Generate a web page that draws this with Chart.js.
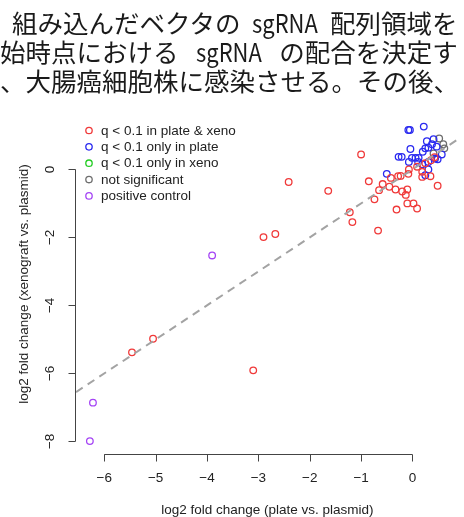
<!DOCTYPE html>
<html lang="ja">
<head>
<meta charset="utf-8">
<script src="https://cdn.jsdelivr.net/npm/chart.js@4.4.0/dist/chart.umd.min.js"></script>
<style>
  html, body { margin: 0; padding: 0; background: #fff; }
  body { width: 464px; height: 517px; position: relative; overflow: hidden; }
  #plot { position: absolute; left: 0; top: 0; }
  .jp { position: absolute; white-space: pre; font-family: "Noto Sans CJK JP", sans-serif; font-size: 25.5px; line-height: 28px; color: #1a1a1a; }
  .sg { display: inline-block; width: 66px; margin: 0 6px; }
  .sg span { display: inline-block; transform: scaleX(0.86); transform-origin: 0 0; }
</style>
</head>
<body>
<canvas id="plot" width="464" height="517"></canvas>
<div class="jp" style="left:12px; top:8px;">組み込んだベクタの <span class="sg"><span>sgRNA</span></span> 配列領域を</div>
<div class="jp" style="left:0px; top:37px;">始時点における  <span class="sg"><span>sgRNA</span></span>  の配合を決定す</div>
<div class="jp" style="left:0px; top:66px;">、大腸癌細胞株に感染させる。その後、</div>

<script>
// ===== Data =====
const groupLabels = ["q < 0.1 in plate & xeno", "q < 0.1 only in plate", "q < 0.1 only in xeno", "not significant", "positive control"];
const groupColors = ["#f03a3a", "#2a2af0", "#22cc22", "#6e6e6e", "#a545f5"];

// [plate LFC, xeno LFC]
const bothPoints = [
  [-5.46, -5.38], [-5.05, -4.98], [-3.10, -5.91], [-2.90, -1.99], [-2.67, -1.90],
  [-2.41, -0.37], [-1.64, -0.63], [-1.00, 0.44], [-1.22, -1.26], [-1.17, -1.55],
  [-0.85, -0.35], [-0.74, -0.88], [-0.67, -1.80], [-0.65, -0.61], [-0.58, -0.43],
  [-0.45, -0.51], [-0.42, -0.25], [-0.33, -0.59], [-0.31, -1.18], [-0.28, -0.20],
  [-0.23, -0.19], [-0.20, -0.65], [-0.13, -0.75], [-0.10, -0.59], [-0.10, -1.00],
  [-0.08, -0.13], [-0.07, 0.00], [0.02, -1.00], [0.09, -1.15], [0.09, 0.08],
  [0.19, -0.07], [0.19, -0.22], [0.25, 0.18], [0.35, -0.20], [0.36, 0.27],
  [0.43, 0.36], [0.49, -0.48]
];
const plateOnlyPoints = [
  [-0.50, -0.13], [-0.27, 0.37], [-0.21, 0.37], [-0.08, 1.16], [-0.05, 1.16],
  [0.22, 1.26], [-0.04, 0.60], [-0.07, 0.22], [-0.01, 0.34], [0.06, 0.34],
  [0.12, 0.34], [0.11, 0.22], [0.19, 0.15], [0.20, 0.52], [0.25, 0.62],
  [0.28, 0.83], [0.31, 0.64], [0.31, 0.00], [0.25, -0.17], [0.38, 0.74],
  [0.41, 0.89], [0.44, 0.32], [0.47, 0.67], [0.57, 0.44], [0.49, 0.30], [0.31, 0.22]
];
const xenoOnlyPoints = [];
const notSigPoints = [[0.52, 0.91], [0.60, 0.74], [0.62, 0.62], [0.41, 0.47]];
const controlPoints = [[-3.90, -2.53], [-6.22, -6.86], [-6.28, -7.99]];

const xTicks = [-6, -5, -4, -3, -2, -1, 0];
const yTicks = [0, -2, -4, -6, -8];
const xTitle = "log2 fold change (plate vs. plasmid)";
const yTitle = "log2 fold change (xenograft vs. plasmid)";

// plot limits (R style, 4% beyond data)
const xMin = -6.55, xMax = 0.9;
const yMin = -8.37, yMax = 1.63;

const groups = [bothPoints, plateOnlyPoints, xenoOnlyPoints, notSigPoints, controlPoints];
const fmt = v => (v < 0 ? "\u2212" + Math.abs(v) : String(v));
const FONT = "13.5px 'Liberation Sans', Arial, sans-serif";

// ===== R-like axes, titles and legend =====
const rAxes = {
  id: "rAxes",
  afterDraw(chart) {
    const { ctx, chartArea, scales: { x, y } } = chart;
    ctx.save();
    ctx.strokeStyle = "#444";
    ctx.lineWidth = 1;
    ctx.fillStyle = "#222";
    ctx.font = FONT;

    // x axis
    const yb = chartArea.bottom + 0.5;
    ctx.beginPath();
    ctx.moveTo(x.getPixelForValue(xTicks[0]), yb);
    ctx.lineTo(x.getPixelForValue(xTicks[xTicks.length - 1]), yb);
    xTicks.forEach(v => {
      const px = Math.round(x.getPixelForValue(v)) + 0.5;
      ctx.moveTo(px, yb);
      ctx.lineTo(px, yb + 7);
    });
    ctx.stroke();
    ctx.textAlign = "center";
    ctx.textBaseline = "middle";
    xTicks.forEach(v => ctx.fillText(fmt(v), x.getPixelForValue(v), yb + 24));
    ctx.fillText(xTitle, (chartArea.left + chartArea.right) / 2, yb + 56);

    // y axis
    const xl = chartArea.left - 0.5;
    ctx.beginPath();
    ctx.moveTo(xl, y.getPixelForValue(yTicks[0]));
    ctx.lineTo(xl, y.getPixelForValue(yTicks[yTicks.length - 1]));
    yTicks.forEach(v => {
      const py = Math.round(y.getPixelForValue(v)) + 0.5;
      ctx.moveTo(xl, py);
      ctx.lineTo(xl - 7, py);
    });
    ctx.stroke();
    yTicks.forEach(v => {
      ctx.save();
      ctx.translate(xl - 25, y.getPixelForValue(v));
      ctx.rotate(-Math.PI / 2);
      ctx.fillText(fmt(v), 0, 0);
      ctx.restore();
    });
    ctx.save();
    ctx.translate(24, (chartArea.top + chartArea.bottom) / 2);
    ctx.rotate(-Math.PI / 2);
    ctx.fillText(yTitle, 0, 0);
    ctx.restore();

    // legend (no box)
    ctx.textAlign = "left";
    groupLabels.forEach((label, i) => {
      const cy = chartArea.top + 16.5 + i * 16.35;
      ctx.strokeStyle = groupColors[i];
      ctx.lineWidth = 1.3;
      ctx.beginPath();
      ctx.arc(89, cy, 3.2, 0, Math.PI * 2);
      ctx.stroke();
      ctx.fillStyle = "#222";
      ctx.fillText(label, 101, cy + 0.5);
    });
    ctx.restore();
  }
};

const datasets = groups.map((pts, i) => ({
  label: groupLabels[i],
  data: pts.map(p => ({ x: p[0], y: p[1] })),
  pointStyle: "circle",
  pointRadius: 3.3,
  pointBorderWidth: 1.3,
  pointBorderColor: groupColors[i],
  pointBackgroundColor: "rgba(0,0,0,0)",
  showLine: false,
  order: 1
}));

// identity line y = x across the plot
datasets.push({
  type: "line",
  label: "y = x",
  data: [{ x: xMin, y: xMin }, { x: xMax, y: xMax }],
  borderColor: "#a3a3a3",
  borderWidth: 2,
  borderDash: [8, 6],
  pointRadius: 0,
  order: 0
});

new Chart(document.getElementById("plot"), {
  type: "scatter",
  data: { datasets: datasets },
  options: {
    responsive: false,
    animation: false,
    devicePixelRatio: 1,
    layout: { padding: { left: 76, top: 114, right: 0, bottom: 63 } },
    scales: {
      x: { type: "linear", min: xMin, max: xMax, display: false },
      y: { type: "linear", min: yMin, max: yMax, display: false }
    },
    plugins: {
      legend: { display: false },
      tooltip: { enabled: false }
    }
  },
  plugins: [rAxes]
});
</script>
</body>
</html>
